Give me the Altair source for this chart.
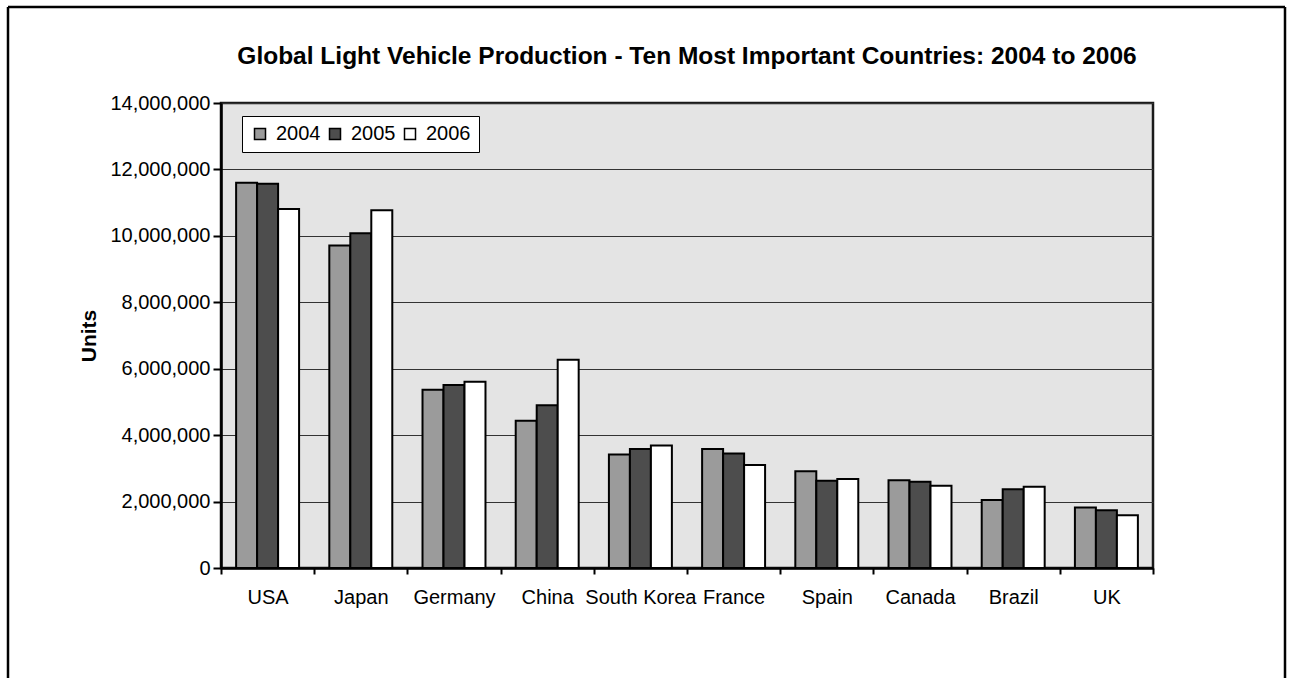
import altair as alt
import pandas as pd

countries = ["USA", "Japan", "Germany", "China", "South Korea",
             "France", "Spain", "Canada", "Brazil", "UK"]
years = ["2004", "2005", "2006"]
v2004 = [11600000, 9710000, 5370000, 4430000, 3420000, 3580000, 2910000, 2640000, 2050000, 1820000]
v2005 = [11570000, 10080000, 5510000, 4900000, 3580000, 3450000, 2630000, 2600000, 2370000, 1740000]
v2006 = [10810000, 10770000, 5610000, 6270000, 3690000, 3100000, 2680000, 2480000, 2450000, 1590000]
y_ticks = [0, 2000000, 4000000, 6000000, 8000000, 10000000, 12000000, 14000000]
colors = ["#9b9b9b", "#4d4d4d", "#ffffff"]

rows = []
for yr, vals in zip(years, [v2004, v2005, v2006]):
    for c, v in zip(countries, vals):
        rows.append({"Country": c, "Year": yr, "Units": v})
df = pd.DataFrame(rows)

FONT = "Liberation Sans, Arial, Helvetica"

W, H = 932, 465

bars = alt.Chart(df).mark_bar(stroke="black", strokeWidth=2).encode(
    x=alt.X("Country:N", sort=countries,
            scale=alt.Scale(paddingInner=0, paddingOuter=0),
            axis=alt.Axis(title=None, tickBand="extent", labelAngle=0,
                          labelFont=FONT, labelFontSize=20, labelColor="black",
                          labelPadding=13, tickSize=6, tickColor="black", tickWidth=2,
                          domainColor="black", domainWidth=2.5, grid=False)),
    xOffset=alt.XOffset("Year:N", sort=years,
                        scale=alt.Scale(paddingInner=0, paddingOuter=0.72)),
    y=alt.Y("Units:Q",
            scale=alt.Scale(domain=[0, 14000000], nice=False),
            axis=alt.Axis(title="Units", values=y_ticks, format=",d",
                          labelFont=FONT, labelFontSize=20, labelColor="black",
                          labelPadding=3, tickSize=8, tickColor="black", tickWidth=2,
                          domainColor="black", domainWidth=2.5,
                          grid=True, gridColor="#333333", gridWidth=1.2,
                          titleFont=FONT, titleFontSize=21, titleFontWeight="bold",
                          titleColor="black", titlePadding=10)),
    color=alt.Color("Year:N", sort=years,
                    scale=alt.Scale(domain=years, range=colors),
                    legend=alt.Legend(orient="none", legendX=21, legendY=13,
                                      direction="horizontal", title=None,
                                      symbolType="square", symbolSize=121,
                                      symbolStrokeColor="black", symbolStrokeWidth=1.5,
                                      labelFont=FONT, labelFontSize=20, labelColor="black",
                                      labelOffset=6, columnPadding=4, padding=8,
                                      fillColor="white", strokeColor="black")),
)

blank = alt.Data(values=[{"k": 0}])
frame_left = alt.Chart(blank).mark_rule(color="black", strokeWidth=2.5).encode(
    x=alt.value(-213), y=alt.value(-96), y2=alt.value(575))
frame_right = alt.Chart(blank).mark_rule(color="black", strokeWidth=2.5).encode(
    x=alt.value(1064), y=alt.value(-96), y2=alt.value(575))
frame_top = alt.Chart(blank).mark_rule(color="black", strokeWidth=2.5).encode(
    x=alt.value(-213), x2=alt.value(1064), y=alt.value(-96))

chart = alt.layer(bars, frame_left, frame_right, frame_top).properties(
    width=W, height=H,
    title=alt.Title("Global Light Vehicle Production - Ten Most Important Countries: 2004 to 2006",
                    font=FONT, fontSize=24.5, fontWeight="bold", color="black",
                    anchor="middle", frame="group", offset=0, dy=64),
    padding={"left": 6, "top": 5, "right": 0, "bottom": 0},
    background="white",
).configure_view(
    fill="#e4e4e4", stroke="#1a1a1a", strokeWidth=2.5
)

chart.save("out.html", embed_options={"renderer": "svg", "actions": False})
